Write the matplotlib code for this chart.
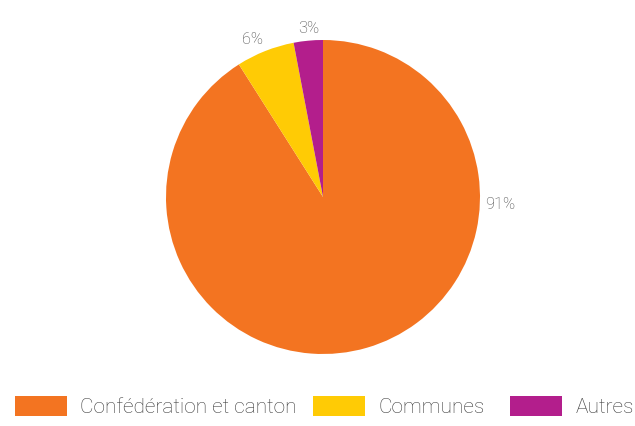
import numpy as np
import matplotlib.pyplot as plt
from matplotlib.patches import Patch

# Données
categories = ['Confédération et canton', 'Communes', 'Autres']
values = [91, 6, 3]
colors = ['#F37421', '#FFCB05', '#B31E8C']
# angles (degrés) où sont posées les étiquettes de pourcentage
label_angles = [-2.5, 114, 95]
label_dist = [1.13, 1.10, 1.08]
# position horizontale (px) de chaque entrée de légende
legend_x = [15, 313, 510]

plt.rcParams['font.family'] = ['Roboto', 'DejaVu Sans']

fig = plt.figure(figsize=(6.35, 4.26), dpi=100)
W, H = 635, 426
cx, cy, r = 323, 197, 157
ax = fig.add_axes([(cx - r) / W, (H - cy - r) / H, 2 * r / W, 2 * r / H])

wedges, _ = ax.pie(values, colors=colors, startangle=90, counterclock=False,
                   radius=1, wedgeprops=dict(linewidth=0))
ax.set_xlim(-1, 1)
ax.set_ylim(-1, 1)
ax.set_aspect('equal')
ax.axis('off')

total = sum(values)
for v, a, d in zip(values, label_angles, label_dist):
    t = np.deg2rad(a)
    ax.text(d * np.cos(t), d * np.sin(t), f'{round(100 * v / total)}%',
            ha='center', va='center', fontsize=11.8, color='#4a4a4a',
            fontweight='light', clip_on=False)

# une légende par entrée pour reproduire l'espacement
for c, lab, x in zip(colors, categories, legend_x):
    fig.legend([Patch(facecolor=c, edgecolor='none')], [lab], loc='lower left',
               bbox_to_anchor=(x / W, 9 / H), frameon=False, handlelength=2.5,
               handleheight=1.15, handletextpad=0.63, borderpad=0, borderaxespad=0,
               labelcolor='#3a3a3a', prop=dict(family='Roboto', weight='light', size=15))

fig.savefig('out.png', dpi=100)
